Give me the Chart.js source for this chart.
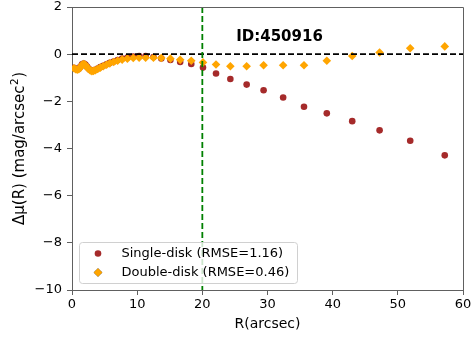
<!DOCTYPE html>
<html>
<head>
<meta charset="utf-8">
<script src="https://cdn.jsdelivr.net/npm/chart.js@4"></script>
<style>
  html, body { margin: 0; padding: 0; background: #fff; }
  #wrap { width: 475px; height: 339px; position: relative; }
</style>
</head>
<body>
<div id="wrap"><canvas id="chart"></canvas></div>
<script>
// radius samples shared by both profiles (arcsec)
const radiusArcsec = [0.3, 0.55, 0.8, 1.05, 1.3, 1.55, 1.8, 2.05, 2.3, 2.55,
  2.8, 3.05, 3.3, 3.6, 3.95, 4.35, 4.8, 5.3, 5.8, 6.4,
  7.0, 7.7, 8.5, 9.4, 10.3, 11.3, 12.5, 13.7, 15.1, 16.6,
  18.3, 20.1, 22.1, 24.3, 26.8, 29.4, 32.4, 35.6, 39.1, 43.0,
  47.2, 51.9, 57.2];

// residual delta mu for the single-disk fit
const singleDisk = [-0.58, -0.62, -0.64, -0.62, -0.53, -0.43, -0.40, -0.44, -0.53, -0.61,
  -0.67, -0.70, -0.69, -0.66, -0.61, -0.55, -0.49, -0.43, -0.37, -0.31,
  -0.25, -0.19, -0.14, -0.10, -0.08, -0.08, -0.12, -0.18, -0.25, -0.33,
  -0.42, -0.57, -0.82, -1.05, -1.29, -1.53, -1.84, -2.23, -2.51, -2.84,
  -3.23, -3.67, -4.29];

// residual delta mu for the double-disk fit
const doubleDisk = [-0.60, -0.64, -0.66, -0.64, -0.55, -0.45, -0.42, -0.46, -0.55, -0.63,
  -0.69, -0.72, -0.71, -0.68, -0.63, -0.57, -0.51, -0.45, -0.39, -0.33,
  -0.28, -0.23, -0.19, -0.16, -0.15, -0.15, -0.15, -0.16, -0.19, -0.24,
  -0.28, -0.35, -0.44, -0.51, -0.51, -0.47, -0.47, -0.47, -0.28, -0.08,
  0.07, 0.25, 0.33];

const seriesLabels = ['Single-disk (RMSE=1.16)', 'Double-disk (RMSE=0.46)'];
const xTicks = [0, 10, 20, 30, 40, 50, 60];
const yTicks = [-10, -8, -6, -4, -2, 0, 2];
const breakRadius = 20;
const galaxyId = 'ID:450916';

const FONT = 'DejaVu Sans';
const SPINE = '#606060';

const toPoints = ys => ys.map((y, i) => ({ x: radiusArcsec[i], y }));

// ── Overlays: reference lines, label, legend, frame ───────────────────────
const overlayPlugin = {
  id: 'overlay',
  afterDatasetsDraw(chart) {
    const { ctx, chartArea: a, scales: { x, y } } = chart;
    ctx.save();
    ctx.beginPath();
    ctx.rect(a.left, a.top, a.right - a.left, a.bottom - a.top);
    ctx.clip();

    ctx.lineWidth = 1.8;
    ctx.setLineDash([6, 3]);
    ctx.strokeStyle = '#000';
    const y0 = y.getPixelForValue(0);
    ctx.beginPath();
    ctx.moveTo(a.left, y0);
    ctx.lineTo(a.right, y0);
    ctx.stroke();

    ctx.strokeStyle = '#008000';
    const xb = x.getPixelForValue(breakRadius);
    ctx.beginPath();
    ctx.moveTo(xb, a.top);
    ctx.lineTo(xb, a.bottom);
    ctx.stroke();
    ctx.setLineDash([]);

    ctx.fillStyle = '#000';
    ctx.font = `bold 15px "${FONT}"`;
    ctx.textAlign = 'left';
    ctx.textBaseline = 'middle';
    ctx.fillText(galaxyId, x.getPixelForValue(25.2), y.getPixelForValue(0.72));
    ctx.restore();

    // legend box, lower left inside the axes
    ctx.save();
    const lx = a.left + 7.5, ly = a.bottom - 47.5, lw = 218, lh = 41;
    ctx.beginPath();
    if (ctx.roundRect) ctx.roundRect(lx, ly, lw, lh, 3); else ctx.rect(lx, ly, lw, lh);
    ctx.fillStyle = 'rgba(255,255,255,0.8)';
    ctx.fill();
    ctx.strokeStyle = '#d0d0d0';
    ctx.lineWidth = 1;
    ctx.stroke();

    ctx.font = `13px "${FONT}"`;
    ctx.textBaseline = 'middle';
    ctx.textAlign = 'left';
    chart.data.datasets.forEach((ds, i) => {
      const cy = ly + 11 + i * 19;
      const cx = lx + 18.5;
      Chart.helpers.drawPoint(ctx, {
        pointStyle: ds.pointStyle, radius: ds.pointRadius, rotation: 0, borderWidth: 0
      }, cx, cy);
      ctx.fillStyle = ds.backgroundColor;
      ctx.fill();
      ctx.fillStyle = '#000';
      ctx.fillText(ds.label, lx + 42, cy);
    });
    ctx.restore();

    // top and right spines
    ctx.save();
    ctx.strokeStyle = SPINE;
    ctx.lineWidth = 1;
    ctx.beginPath();
    ctx.moveTo(a.left, a.top + 0.5);
    ctx.lineTo(a.right + 0.5, a.top + 0.5);
    ctx.lineTo(a.right + 0.5, a.bottom);
    ctx.stroke();
    ctx.restore();

    // axis titles
    ctx.save();
    ctx.fillStyle = '#000';
    ctx.font = `14px "${FONT}"`;
    ctx.textAlign = 'center';
    ctx.textBaseline = 'middle';
    ctx.fillText('R(arcsec)', (a.left + a.right) / 2, 324);

    // y title with a raised, smaller exponent
    const main = '\u0394\u03bc(R) (mag/arcsec';
    ctx.font = `15px "${FONT}"`;
    const wMain = ctx.measureText(main).width;
    const wParen = ctx.measureText(')').width;
    ctx.font = `10.5px "${FONT}"`;
    const wSup = ctx.measureText('2').width + 1;
    const total = wMain + wSup + wParen;
    ctx.translate(20, (a.top + a.bottom) / 2);
    ctx.rotate(-Math.PI / 2);
    ctx.textAlign = 'left';
    let px = -total / 2;
    ctx.font = `15px "${FONT}"`;
    ctx.fillText(main, px, 0);
    px += wMain;
    ctx.font = `10.5px "${FONT}"`;
    ctx.fillText('2', px + 0.5, -5);
    px += wSup;
    ctx.font = `15px "${FONT}"`;
    ctx.fillText(')', px, 0);
    ctx.restore();
  }
};

const tickFmt = v => String(v).replace('-', '\u2212');

new Chart(document.getElementById('chart'), {
  type: 'scatter',
  data: {
    datasets: [
      {
        label: seriesLabels[0],
        data: toPoints(singleDisk),
        pointStyle: 'circle',
        pointRadius: 3.3,
        backgroundColor: '#a52a2a',
        borderWidth: 0,
        order: 1,
        clip: 0
      },
      {
        label: seriesLabels[1],
        data: toPoints(doubleDisk),
        pointStyle: 'rectRot',
        pointRadius: 4.3,
        backgroundColor: '#ffa500',
        borderWidth: 0,
        order: 0,
        clip: 0
      }
    ]
  },
  options: {
    responsive: true,
    maintainAspectRatio: false,
    animation: false,
    layout: { padding: { top: 7, right: 12, left: 0, bottom: 0 } },
    plugins: {
      legend: { display: false },
      tooltip: { enabled: false }
    },
    scales: {
      x: {
        type: 'linear',
        min: 0, max: 60,
        afterBuildTicks: s => { s.ticks = xTicks.map(v => ({ value: v })); },
        afterFit: s => { s.height = 49; s.paddingLeft = 0; s.paddingRight = 0; },
        ticks: { color: '#000', font: { family: FONT, size: 13 }, padding: 2, callback: tickFmt, maxRotation: 0 },
        grid: { display: true, drawOnChartArea: false, drawTicks: true, tickLength: 5, color: SPINE },
        border: { display: true, color: SPINE, width: 1 }
      },
      y: {
        type: 'linear',
        min: -10, max: 2,
        afterBuildTicks: s => { s.ticks = yTicks.map(v => ({ value: v })); },
        afterFit: s => { s.width = 72; s.paddingTop = 0; s.paddingBottom = 0; },
        ticks: { color: '#000', font: { family: FONT, size: 13 }, padding: 5, callback: tickFmt },
        grid: { display: true, drawOnChartArea: false, drawTicks: true, tickLength: 5, color: SPINE },
        border: { display: true, color: SPINE, width: 1 }
      }
    }
  },
  plugins: [overlayPlugin]
});
</script>
</body>
</html>
